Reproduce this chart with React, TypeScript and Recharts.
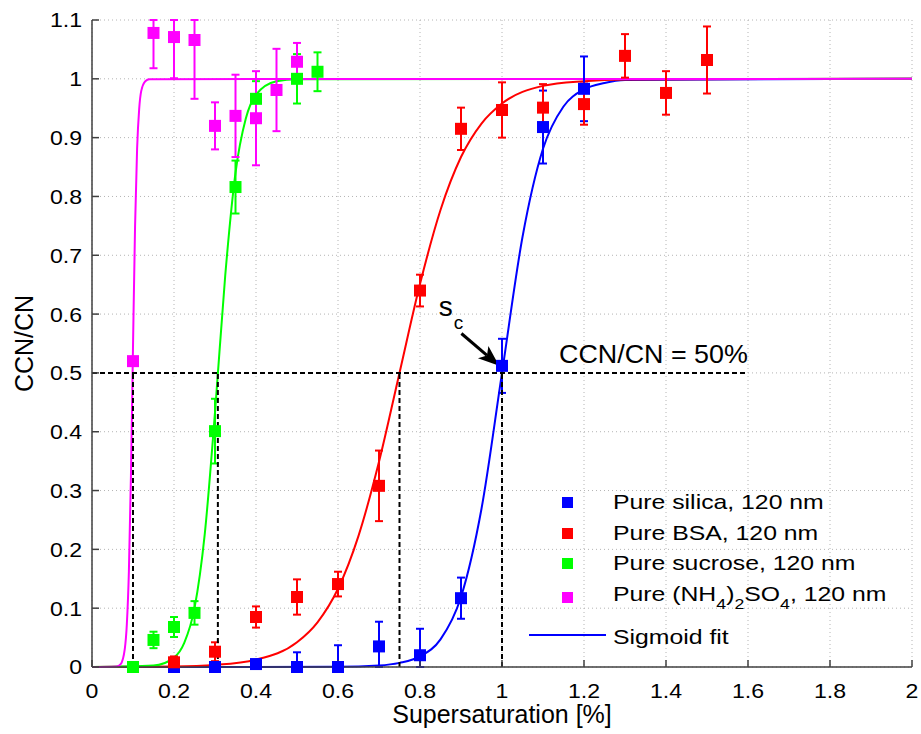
import React from 'react';
import {
  ComposedChart,
  Scatter,
  Line,
  XAxis,
  YAxis,
  CartesianGrid,
  ErrorBar,
  ReferenceLine,
  ReferenceDot,
  Label,
} from 'recharts';

const FONT = '"Liberation Sans", Arial, Helvetica, sans-serif';

// Measured activation ratios (CCN/CN) with their error bars
const silicaS = [0.2, 0.3, 0.4, 0.5, 0.6, 0.7, 0.8, 0.9, 1.0, 1.1, 1.2];
const silicaCcn = [0, 0, 0.005, 0, 0, 0.035, 0.02, 0.117, 0.512, 0.918, 0.983];
const silicaErr = [0, 0, 0.005, 0.025, 0.037, 0.042, 0.045, 0.035, 0.046, 0.062, 0.055];

const bsaS = [0.2, 0.3, 0.4, 0.5, 0.6, 0.7, 0.8, 0.9, 1.0, 1.1, 1.2, 1.3, 1.4, 1.5];
const bsaCcn = [0.008, 0.026, 0.085, 0.119, 0.141, 0.308, 0.64, 0.915, 0.947, 0.951, 0.957, 1.039, 0.976, 1.032];
const bsaErr = [0.01, 0.016, 0.018, 0.03, 0.021, 0.06, 0.027, 0.036, 0.047, 0.04, 0.035, 0.037, 0.037, 0.057];

const sucroseS = [0.1, 0.15, 0.2, 0.25, 0.3, 0.35, 0.4, 0.5, 0.55];
const sucroseCcn = [0, 0.046, 0.068, 0.092, 0.401, 0.816, 0.966, 1.0, 1.012];
const sucroseErr = [0, 0.014, 0.017, 0.02, 0.055, 0.045, 0.03, 0.042, 0.033];

const amsulS = [0.1, 0.15, 0.2, 0.25, 0.3, 0.35, 0.4, 0.45, 0.5];
const amsulCcn = [0.52, 1.078, 1.071, 1.066, 0.92, 0.937, 0.933, 0.981, 1.029];
const amsulErr = [0, 0.06, 0.07, 0.1, 0.04, 0.07, 0.08, 0.07, 0.032];

// Sigmoid fit curves, sampled along supersaturation
const silicaFitS = [0, 0.6, 0.7, 0.75, 0.8, 0.85, 0.9, 0.95, 1.0, 1.05, 1.1, 1.15, 1.2, 1.25, 1.3, 2];
const silicaFitCcn = [0, 0.0003, 0.0025, 0.007, 0.018, 0.047, 0.119, 0.269, 0.5, 0.731, 0.881, 0.953, 0.982, 0.993, 0.998, 1];

const bsaFitS = [0, 0.2, 0.3, 0.4, 0.5, 0.55, 0.6, 0.65, 0.7, 0.75, 0.8, 0.85, 0.9, 0.95, 1.0, 1.1, 1.2, 1.3, 2];
const bsaFitCcn = [0.0001, 0.001, 0.0036, 0.0125, 0.042, 0.076, 0.133, 0.223, 0.349, 0.5, 0.651, 0.777, 0.867, 0.924, 0.958, 0.988, 0.996, 0.999, 1];

const sucroseFitS = [0, 0.15, 0.2, 0.225, 0.25, 0.275, 0.3, 0.325, 0.35, 0.375, 0.4, 0.45, 0.5, 2];
const sucroseFitCcn = [0, 0.0024, 0.016, 0.041, 0.1, 0.226, 0.433, 0.666, 0.84, 0.932, 0.973, 0.996, 0.9994, 1];

const amsulFitS = [0, 0.06, 0.07, 0.08, 0.085, 0.09, 0.095, 0.1, 0.105, 0.11, 0.115, 0.12, 0.13, 0.14, 2];
const amsulFitCcn = [0, 0.0008, 0.005, 0.031, 0.073, 0.163, 0.326, 0.545, 0.748, 0.881, 0.948, 0.979, 0.996, 0.9994, 1];

// Critical supersaturations (where each fit crosses 50 %)
const criticalS = [0.1, 0.307, 0.75, 1.0];
const halfLevel = 0.5;
const halfLineEnd = 1.6;

const xTicks = [0, 0.2, 0.4, 0.6, 0.8, 1, 1.2, 1.4, 1.6, 1.8, 2];
const yTicks = [0, 0.1, 0.2, 0.3, 0.4, 0.5, 0.6, 0.7, 0.8, 0.9, 1, 1.1];
const Y_MIN = 0;
const Y_MAX = 1.1;

// error bars are cut at the axes frame, like the plotting tool does
const toPoints = (s: number[], ccn: number[], err?: number[]) =>
  s.map((x, i) => {
    const e = err ? err[i] : 0;
    return {
      s: x,
      ccn: ccn[i],
      err: [Math.min(e, ccn[i] - Y_MIN), Math.min(e, Y_MAX - ccn[i])],
    };
  });

const series = [
  { key: 'silica', color: '#0000ff', pts: toPoints(silicaS, silicaCcn, silicaErr), fit: toPoints(silicaFitS, silicaFitCcn) },
  { key: 'bsa', color: '#ff0000', pts: toPoints(bsaS, bsaCcn, bsaErr), fit: toPoints(bsaFitS, bsaFitCcn) },
  { key: 'sucrose', color: '#00ff00', pts: toPoints(sucroseS, sucroseCcn, sucroseErr), fit: toPoints(sucroseFitS, sucroseFitCcn) },
  { key: 'amsul', color: '#ff00ff', pts: toPoints(amsulS, amsulCcn, amsulErr), fit: toPoints(amsulFitS, amsulFitCcn) },
];

const square = (color: string) => (props: any) => {
  const { cx, cy } = props;
  if (cx == null || cy == null) return <g />;
  return <rect x={cx - 6} y={cy - 6} width={12} height={12} fill={color} />;
};

const noMark = () => <g />;

const XTick = (props: any) => {
  const { x, y, payload } = props;
  return (
    <g transform={`translate(${x},${y})`}>
      <text transform="scale(1.1,1)" textAnchor="middle" dy="0.71em" fontSize={21} fontFamily={FONT} fill="#000">
        {String(payload.value)}
      </text>
    </g>
  );
};

const YTick = (props: any) => {
  const { x, y, payload } = props;
  return (
    <g transform={`translate(${x},${y})`}>
      <text transform="scale(1.1,1)" textAnchor="end" dy="0.355em" fontSize={21} fontFamily={FONT} fill="#000">
        {String(payload.value)}
      </text>
    </g>
  );
};

// black arrow pointing at the critical supersaturation
const ArrowShape = (p: any) => {
  const x1 = Number(p.x1), y1 = Number(p.y1), x2 = Number(p.x2), y2 = Number(p.y2);
  const ang = Math.atan2(y2 - y1, x2 - x1);
  const c = Math.cos(ang), s = Math.sin(ang);
  const len = 21, half = 8, notch = 5;
  const bx = x2 - len * c, by = y2 - len * s;
  const pts = [
    [x2, y2],
    [bx - s * half, by + c * half],
    [bx + notch * c, by + notch * s],
    [bx + s * half, by - c * half],
  ].map((q) => q.join(',')).join(' ');
  return (
    <g>
      <line x1={x1} y1={y1} x2={bx + notch * c} y2={by + notch * s} stroke="#000" strokeWidth={3} />
      <polygon points={pts} fill="#000" />
    </g>
  );
};

const ScLabel = (p: any) => (
  <text x={p.cx} y={p.cy} fontSize={28} fontFamily={FONT} fill="#000">
    s
    <tspan dx={1} dy={13} fontSize={19}>c</tspan>
  </text>
);

const HalfLabel = (p: any) => (
  <g transform={`translate(${p.cx},${p.cy})`}>
    <text transform="scale(1.075,1)" fontSize={25} fontFamily={FONT} fill="#000">
      CCN/CN = 50%
    </text>
  </g>
);

const sub: React.CSSProperties = { fontSize: 15, position: 'relative', top: 8 };

const legendRows = [
  { color: '#0000ff', text: <>Pure silica, 120 nm</>, y: 502 },
  { color: '#ff0000', text: <>Pure BSA, 120 nm</>, y: 533 },
  { color: '#00ff00', text: <>Pure sucrose, 120 nm</>, y: 563 },
  {
    color: '#ff00ff',
    y: 597,
    text: (
      <>
        Pure (NH<span style={sub}>4</span>)<span style={sub}>2</span>SO<span style={sub}>4</span>, 120 nm
      </>
    ),
  },
];

const rowText: React.CSSProperties = {
  position: 'absolute',
  left: 613,
  fontSize: 21,
  lineHeight: '24px',
  whiteSpace: 'nowrap',
  transform: 'scaleX(1.18)',
  transformOrigin: 'left center',
  color: '#000',
};

const axisStroke = { stroke: '#404040', strokeWidth: 1.5 };

export default function App() {
  return (
    <div style={{ position: 'absolute', left: 0, top: 0, width: 921, height: 734, fontFamily: FONT, background: '#fff' }}>
      <ComposedChart width={921} height={734} margin={{ top: 20, right: 9, bottom: 0, left: 0 }}>
        <CartesianGrid stroke="#b4b4b4" strokeDasharray="1 3" />
        <XAxis
          type="number"
          dataKey="s"
          domain={[0, 2]}
          ticks={xTicks}
          interval={0}
          height={67}
          tickSize={-7}
          tickMargin={23}
          tick={<XTick />}
          axisLine={axisStroke}
          tickLine={axisStroke}
        >
          <Label
            content={(p: any) => {
              const vb = p.viewBox;
              return (
                <text x={vb.x + vb.width / 2} y={vb.y + 56} textAnchor="middle" fontSize={25} fontFamily={FONT} fill="#000">
                  Supersaturation [%]
                </text>
              );
            }}
          />
        </XAxis>
        <YAxis
          type="number"
          dataKey="ccn"
          domain={[Y_MIN, Y_MAX]}
          ticks={yTicks}
          interval={0}
          width={92}
          tickSize={-7}
          tickMargin={17}
          tick={<YTick />}
          axisLine={axisStroke}
          tickLine={axisStroke}
        >
          <Label
            content={(p: any) => {
              const vb = p.viewBox;
              const cy = vb.y + vb.height / 2;
              return (
                <text x={33} y={cy} transform={`rotate(-90,33,${cy})`} textAnchor="middle" fontSize={25} fontFamily={FONT} fill="#000">
                  CCN/CN
                </text>
              );
            }}
          />
        </YAxis>

        {series.map((sr) => (
          <Line
            key={`fit-${sr.key}`}
            data={sr.fit}
            dataKey="ccn"
            type="monotoneX"
            stroke={sr.color}
            strokeWidth={2}
            dot={false}
            activeDot={false}
            isAnimationActive={false}
          />
        ))}

        {series.map((sr) => (
          <Scatter
            key={`err-${sr.key}`}
            data={sr.pts}
            dataKey="ccn"
            fill={sr.color}
            shape={noMark}
            isAnimationActive={false}
          >
            <ErrorBar dataKey="err" direction="y" width={4} stroke={sr.color} strokeWidth={2} />
          </Scatter>
        ))}

        {series.map((sr) => (
          <Scatter
            key={`pts-${sr.key}`}
            data={sr.pts}
            dataKey="ccn"
            fill={sr.color}
            shape={square(sr.color)}
            isAnimationActive={false}
          />
        ))}

        <ReferenceLine
          segment={[{ x: 0, y: halfLevel }, { x: halfLineEnd, y: halfLevel }]}
          stroke="#000"
          strokeWidth={2}
          strokeDasharray="5 3"
        />
        {criticalS.map((sc) => (
          <ReferenceLine
            key={`crit-${sc}`}
            segment={[{ x: sc, y: 0 }, { x: sc, y: halfLevel }]}
            stroke="#000"
            strokeWidth={2}
            strokeDasharray="5 3"
          />
        ))}
        <ReferenceLine segment={[{ x: 0.901, y: 0.567 }, { x: 0.993, y: 0.512 }]} shape={ArrowShape} />
        <ReferenceDot x={0.846} y={0.596} shape={ScLabel} />
        <ReferenceDot x={1.139} y={0.517} shape={HalfLabel} />
      </ComposedChart>

      {legendRows.map((r, i) => (
        <React.Fragment key={i}>
          <div style={{ position: 'absolute', left: 562, top: r.y - 5.5, width: 11, height: 11, background: r.color }} />
          <div style={{ ...rowText, top: r.y - 12 - (i === 3 ? 3 : 0) }}>{r.text}</div>
        </React.Fragment>
      ))}
      <div style={{ position: 'absolute', left: 529, top: 634, width: 77, height: 2, background: '#0000ff' }} />
      <div style={{ ...rowText, top: 637 - 12 }}>Sigmoid fit</div>
    </div>
  );
}
